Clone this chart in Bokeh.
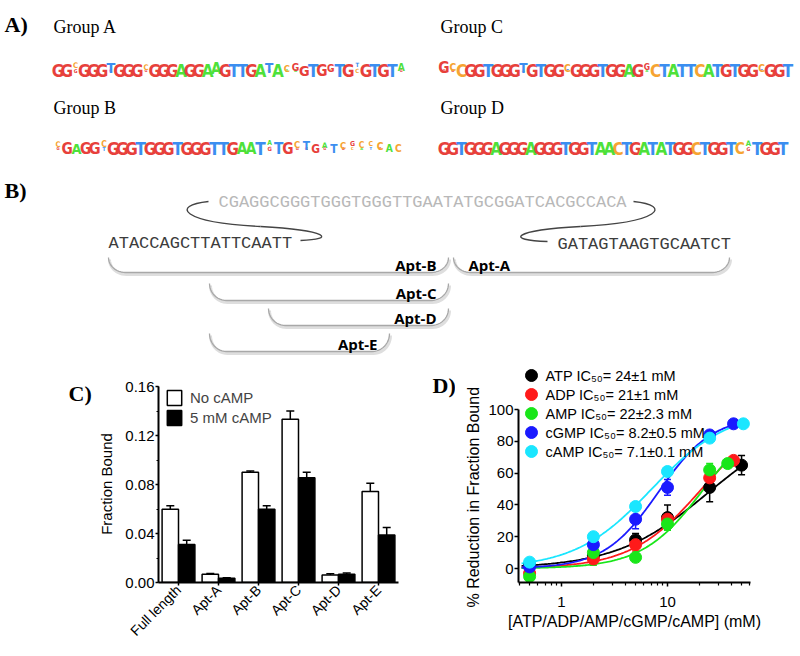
import math
import numpy as np
from bokeh.plotting import figure
from bokeh.layouts import column, row
from bokeh.models import (Range1d, FactorRange, ColumnDataSource, Whisker, TeeHead, Legend,
                          LegendItem, FixedTicker, SingleIntervalTicker, Title,
                          NumeralTickFormatter, BasicTickFormatter)
from bokeh.core.properties import value
from bokeh.embed import file_html
from bokeh.resources import INLINE
from bokeh.transform import dodge

SANS = "Liberation Sans"
SERIF = "Liberation Serif"
LOGO_FONT = "Liberation Sans Narrow, DejaVu Sans Condensed, Liberation Sans"
NBSP = "\u00a0"

# ---------------- A) sequence logos ----------------
logo_titles = ["Group A", "Group B", "Group C", "Group D"]
groupA_seq = "GGCGGGTGGGCGGGAGGAAGTTGATACGGTGGTGTGTGTA"
groupA_h = [1, 1, .45, 1, 1, 1, .85, 1, 1, 1, .45, 1, 1, 1, 1, 1, 1, 1, .9, 1,
            1, 1, 1, 1, .8, 1, .55, .6, .85, 1, .9, .6, 1, 1, .35, 1, 1, 1, 1, .6]
groupA_sub = {3: ("G", .3), 7: ("G", .1), 11: ("G", .2), 19: ("C", .08), 25: ("G", .1),
              27: ("A", .12), 28: ("A", .15), 32: ("C", .1), 35: ("C", .35), 40: ("G", .2)}
groupB_seq = "CGAGGCGGGTGGGTGGGTTGAATATGCTGATCGCCCAC"
groupB_h = [.45, .9, .85, .9, .95, .5, 1, 1, 1, 1, 1, 1, 1, 1, 1, 1, 1, 1, 1, 1,
            .9, .9, 1, .4, .9, .9, .55, .7, .7, .45, .7, .55, .4, .5, .4, .6, .6, .6]
groupB_sub = {1: ("G", .25), 6: ("T", .3), 24: ("G", .35), 27: ("G", .25), 28: ("G", .15),
              30: ("G", .2), 32: ("G", .15), 33: ("C", .25), 34: ("A", .2), 35: ("T", .25),
              36: ("G", .1)}
groupC_seq = "GCCGGTGGGTGTGGCGGGTGGAGGCTATTCATGTGGCGGT"
groupC_h = [.9, .6, 1, 1, 1, 1, 1, 1, 1, .8, 1, 1, 1, 1, .6, 1, 1, 1, 1, 1,
            1, 1, 1, .5, 1, 1, 1, 1, 1, 1, 1, 1, 1, 1, 1, 1, .6, 1, 1, 1]
groupC_sub = {1: ("G", .15), 2: ("G", .15), 10: ("A", .15), 15: ("T", .1), 24: ("A", .2),
              37: ("T", .1)}
groupD_seq = "GGTGGGAGGGAGGGTGGTAACTGATATGGCTGGTCATGGT"
groupD_h = [1, 1, 1, 1, 1, 1, 1, 1, 1, 1, 1, 1, 1, 1, 1, 1, 1, 1, 1, 1,
            1, 1, 1, 1, 1, 1, 1, 1, 1, 1, 1, 1, 1, 1, .9, .45, 1, 1, 1, 1]
groupD_sub = {36: ("G", .3)}

# ---------------- B) construct diagram ----------------
seq_loop = "CGAGGCGGGTGGGTGGGTTGAATATGCGGATCACGCCACA"
seq_left = "ATACCAGCTTATTCAATT"
seq_right = "GATAGTAAGTGCAATCT"
apt_names = ["Apt-B", "Apt-A", "Apt-C", "Apt-D", "Apt-E"]

# ---------------- C) fraction bound ----------------
bar_categories = ["Full length", "Apt-A", "Apt-B", "Apt-C", "Apt-D", "Apt-E"]
no_camp = [0.0597, 0.0068, 0.0899, 0.1333, 0.0062, 0.0742]
no_camp_err = [0.0030, 0.0005, 0.0012, 0.0067, 0.0010, 0.0069]
camp_5mM = [0.0311, 0.0035, 0.0597, 0.0855, 0.0068, 0.0388]
camp_5mM_err = [0.0033, 0.0003, 0.0030, 0.0044, 0.0010, 0.0060]
bar_series = ["No cAMP", "5 mM cAMP"]

# ---------------- D) dose response ----------------
atp_x = [0.5, 2, 5, 10, 25, 50]
atp_y = [2, 8, 18, 32, 51, 65]
atp_err = [3, 3, 4, 8, 9, 6]
adp_x = [0.5, 2, 5, 10, 25, 42]
adp_y = [-3, 6, 15, 31, 57, 68]
adp_err = [2, 3, 4, 4, 4, 2]
amp_x = [0.5, 2, 5, 10, 25, 37]
amp_y = [-5, 10, 7, 28, 62, 66]
amp_err = [2, 8, 2, 4, 4, 2]
cgmp_x = [0.5, 2, 5, 10, 25, 42]
cgmp_y = [1, 15, 31, 51, 84, 91]
cgmp_err = [3, 2, 6, 5, 1, 1]
camp_x = [0.5, 2, 5, 10, 25, 52]
camp_y = [4, 20, 39, 61, 82, 91]
camp_err = [2, 1, 1, 1, 1, 1]
dr_names = ["ATP", "ADP", "AMP", "cGMP", "cAMP"]
fit_ic50 = [24, 21, 22, 8.2, 7.1]
fit_ic50_err = ["1", "1", "2.3", "0.5", "0.1"]
fit_top = [95, 100, 100, 96, 100]
fit_hill = [1.0, 1.3, 1.5, 1.7, 1.2]

# ================= top figure (A and B), pixel coordinates =================
TOP_H = 358
top = figure(width=800, height=TOP_H, x_range=Range1d(0, 800), y_range=Range1d(TOP_H, 0),
             output_backend="svg", toolbar_location=None, min_border=0, title=None,
             x_axis_location=None, y_axis_location=None)
top.grid.visible = False
top.outline_line_color = None

logo_colors = {"A": "#4ee13a", "C": "#f6a431", "G": "#e7403b", "T": "#3b8ef0"}
F = 17


def logo_source(seq, h, sub, x0, dx, base):
    xs, ys, ts, fs, cs = [], [], [], [], []
    for i, ch in enumerate(seq):
        x = x0 + i * dx
        b = base
        if (i + 1) in sub:
            s, hs = sub[i + 1]
            xs.append(x); ys.append(b); ts.append(s)
            fs.append(f"{max(F * hs, 4):.1f}px"); cs.append(logo_colors[s])
            b -= 0.72 * F * hs + 1
        xs.append(x); ys.append(b); ts.append(ch)
        fs.append(f"{F * h[i]:.1f}px"); cs.append(logo_colors[ch])
    return ColumnDataSource(dict(x=xs, y=ys, t=ts, fs=fs, c=cs))


for seq, h, sub, x0, dx, base in [
        (groupA_seq, groupA_h, groupA_sub, 57.5, 8.8, 70),
        (groupB_seq, groupB_h, groupB_sub, 57.5, 9.2, 148),
        (groupC_seq, groupC_h, groupC_sub, 443.5, 8.82, 70),
        (groupD_seq, groupD_h, groupD_sub, 443.5, 8.7, 148)]:
    top.text(x="x", y="y", text="t", text_font_size="fs", text_color="c",
             source=logo_source(seq, h, sub, x0, dx, base),
             text_align="center", text_baseline="alphabetic",
             text_font=value(LOGO_FONT), text_font_style="bold")

top.text(x=[53, 53, 440, 440], y=[26, 107, 26, 107], text=logo_titles,
         text_font=value(SERIF), text_font_size="18px", text_baseline="middle",
         text_color="black")
top.text(x=[4, 4], y=[24, 190], text=["A)", "B)"], text_font=value(SERIF),
         text_font_size="22px", text_font_style="bold", text_baseline="middle",
         text_color="black")

# B) sequences
top.text(x=[218], y=[202], text=[seq_loop], text_font=value("Liberation Mono"),
         text_font_size="17px", text_baseline="middle", text_color="#b8b8b8")
top.text(x=[108, 557], y=[243, 244], text=[seq_left, seq_right],
         text_font=value("Liberation Mono"), text_font_size="17px",
         text_baseline="middle", text_color="#3c3c3c")
# connectors
top.bezier(x0=[208, 260, 633, 580], y0=[201, 226, 201, 226],
           x1=[260, 300, 580, 547], y1=[226, 240, 226, 241],
           cx0=[170, 330, 672, 510], cy0=[205, 230, 205, 230],
           cx1=[180, 335, 660, 505], cy1=[222, 239, 222, 240],
           line_color="#444444", line_width=1.4)

# brackets
apt_start = [108, 453, 209, 268, 209]
apt_end = [448, 729, 448, 448, 389]
apt_top = [257, 257, 283, 308, 333]
apt_bot = [272, 272, 300, 325, 351]
br_xs, br_ys = [], []
for x0, x1, t, b in zip(apt_start, apt_end, apt_top, apt_bot):
    r = 17
    hh = b - t
    xs, ys = [], []
    for k in range(13):
        a = k / 12 * math.pi / 2
        xs.append(x0 + r - r * math.cos(a)); ys.append(t + hh * math.sin(a))
    for k in range(13):
        a = math.pi / 2 - k / 12 * math.pi / 2
        xs.append(x1 - r + r * math.cos(a)); ys.append(t + hh * math.sin(a))
    br_xs.append(xs); br_ys.append(ys)
top.multi_line(xs=[[v + 1 for v in xs] for xs in br_xs],
               ys=[[v + 2 for v in ys] for ys in br_ys],
               line_color="#dedede", line_width=3)
top.multi_line(xs=br_xs, ys=br_ys, line_color="#a8a8a8", line_width=1.3)
lab_x = [x1 - 12 for x1 in apt_end]
lab_x[1] = apt_start[1] + 15
lab_align = ["right", "left", "right", "right", "right"]
top.text(x=lab_x, y=[b - 8 for b in apt_bot], text=apt_names,
         text_align=lab_align, text_baseline="middle",
         text_font=value("Open Sans"), text_font_style="bold",
         text_font_size="15px", text_color="black")

# ============ bottom row: every plot shares the same frame rows ============
BOT_H = 656 - TOP_H          # 298
FR_T, FR_B = TOP_H + 2, 582  # frame top / bottom page rows
B_TOP, B_BOT = FR_T - TOP_H, 656 - FR_B


def letter_fig(x0, x1, text, tx, ty):
    f = figure(width=x1 - x0, height=BOT_H, x_range=Range1d(x0, x1),
               y_range=Range1d(FR_B, FR_T), output_backend="svg", toolbar_location=None,
               min_border_left=0, min_border_right=0, min_border_top=B_TOP,
               min_border_bottom=B_BOT, title=None,
               x_axis_location=None, y_axis_location=None)
    f.grid.visible = False
    f.outline_line_color = None
    f.text(x=[tx], y=[ty], text=[text], text_font=value(SERIF), text_font_size="22px",
           text_font_style="bold", text_baseline="middle", text_color="black")
    return f


labC = letter_fig(0, 95, "C)", 68, 393)
labD = letter_fig(430, 455, "D)", 432, 385)

# ================= C) bar chart =================
srcC = ColumnDataSource(dict(
    cat=bar_categories, no=no_camp, c5=camp_5mM,
    no_lo=[v - e for v, e in zip(no_camp, no_camp_err)],
    no_hi=[v + e for v, e in zip(no_camp, no_camp_err)],
    c5_lo=[v - e for v, e in zip(camp_5mM, camp_5mM_err)],
    c5_hi=[v + e for v, e in zip(camp_5mM, camp_5mM_err)]))

C_TOP = 0.16 + (386 - FR_T) * 0.16 / (FR_B - 386)
pC = figure(x_range=FactorRange(*bar_categories), y_range=Range1d(0, C_TOP),
            width=335, height=BOT_H, min_border_left=58, min_border_right=32,
            min_border_top=B_TOP, min_border_bottom=B_BOT, title=None,
            output_backend="svg", toolbar_location=None)
pC.grid.visible = False
pC.outline_line_color = None
OFF = 0.205
r_no = pC.vbar(x=dodge("cat", -OFF, range=pC.x_range), top="no", width=0.41, source=srcC,
               fill_color="white", line_color="black", line_width=1.5)
r_c5 = pC.vbar(x=dodge("cat", OFF, range=pC.x_range), top="c5", width=0.41, source=srcC,
               fill_color="black", line_color="black", line_width=1.5)
for off, lo, hi in [(-OFF, "no_lo", "no_hi"), (OFF, "c5_lo", "c5_hi")]:
    pC.add_layout(Whisker(source=srcC, base=dodge("cat", off, range=pC.x_range),
                          lower=lo, upper=hi, line_color="black", line_width=1.5,
                          upper_head=TeeHead(size=8, line_width=1.5, line_color="black"),
                          lower_head=TeeHead(size=8, line_width=1.5, line_color="black")))

pC.yaxis.ticker = SingleIntervalTicker(interval=0.04, num_minor_ticks=2)
pC.yaxis.formatter = NumeralTickFormatter(format="0.00")
pC.yaxis.bounds = (0, 0.16)
# trailing no-break spaces centre the title on the drawn axis (0-0.16), not the frame
pC.yaxis.axis_label = "Fraction Bound" + NBSP * 6
pC.xaxis.major_label_orientation = math.pi / 4
for ax in (pC.xaxis, pC.yaxis):
    ax.axis_line_width = 2
    ax.axis_line_color = "black"
    ax.major_tick_line_width = 1.5
    ax.major_tick_in = 0
    ax.major_tick_out = 3
    ax.minor_tick_in = 0
    ax.minor_tick_out = 2
    ax.major_label_text_font = SANS
    ax.major_label_text_font_size = "15px"
    ax.major_label_text_color = "black"
    ax.axis_label_text_font = SANS
    ax.axis_label_text_font_size = "15px"
    ax.axis_label_text_font_style = "normal"
    ax.axis_label_text_color = "black"
pC.yaxis.major_label_standoff = 1
pC.yaxis.axis_label_standoff = 7
pC.xaxis.major_label_standoff = 2
pC.xaxis.major_label_text_font_size = "14px"

legC = Legend(items=[LegendItem(label=bar_series[0], renderers=[r_no]),
                     LegendItem(label=bar_series[1], renderers=[r_c5])],
              location=(7, FR_B - 427), glyph_width=18, glyph_height=19,
              label_height=19, spacing=1, padding=0, margin=0, label_standoff=7,
              background_fill_alpha=0, border_line_color=None,
              label_text_font=SANS, label_text_font_size="15px")
pC.add_layout(legC)

# ================= D) dose response =================
Y0PX, PXU = 568, 1.59            # page row of y=0 and pixels per % unit
YLO = -(FR_B - Y0PX) / PXU
YHI = (Y0PX - FR_T) / PXU
XLO, XHI = 0.393, 60.7
pD = figure(x_axis_type="log", x_range=Range1d(XLO, XHI), y_range=Range1d(YLO, YHI),
            width=345, height=BOT_H, min_border_left=63, min_border_right=50,
            min_border_top=B_TOP, min_border_bottom=B_BOT, title=None,
            output_backend="svg", toolbar_location=None)
pD.grid.visible = False
pD.outline_line_color = None

dr_colors = ["black", "#ff1a1a", "#19e619", "#1a1aff", "#1ae6ff"]
series = [(atp_x, atp_y, atp_err), (adp_x, adp_y, adp_err), (amp_x, amp_y, amp_err),
          (cgmp_x, cgmp_y, cgmp_err), (camp_x, camp_y, camp_err)]
for i, (sx, sy, se) in enumerate(series):
    xc = np.logspace(np.log10(0.42), np.log10(max(sx)), 150)
    yc = fit_top[i] / (1 + (fit_ic50[i] / xc) ** fit_hill[i])
    pD.line(xc, yc, line_color=dr_colors[i], line_width=1.8)
for i, (sx, sy, se) in enumerate(series):
    col = dr_colors[i]
    src = ColumnDataSource(dict(x=sx, y=sy, lo=[a - b for a, b in zip(sy, se)],
                                hi=[a + b for a, b in zip(sy, se)]))
    pD.add_layout(Whisker(source=src, base="x", lower="lo", upper="hi",
                          line_color=col, line_width=1.5,
                          upper_head=TeeHead(size=7, line_width=1.5, line_color=col),
                          lower_head=TeeHead(size=7, line_width=1.5, line_color=col)))
    pD.scatter("x", "y", source=src, size=12, fill_color=col, line_color=col)

# legend block in the upper-left corner of the panel, laid out in pixels
FW = 232
lx_marker = 10 ** (math.log10(XLO) + 13 / FW * math.log10(XHI / XLO))
lx_text = 10 ** (math.log10(XLO) + 27 / FW * math.log10(XHI / XLO))
leg_rows = [(Y0PX - py) / PXU for py in (375, 394, 413, 432, 451)]
leg_labels = [f"{n} IC\u2085\u2080= {v}\u00b1{e} mM"
              for n, v, e in zip(dr_names, fit_ic50, fit_ic50_err)]
pD.scatter(x=[lx_marker] * 5, y=leg_rows, size=12, fill_color=dr_colors,
           line_color=dr_colors)
pD.text(x=[lx_text] * 5, y=leg_rows, text=leg_labels, text_baseline="middle",
        text_font=value(SANS), text_font_size="14.5px", text_color="black")

pD.xaxis.ticker = FixedTicker(ticks=[1, 10],
                              minor_ticks=[0.4, 0.5, 0.6, 0.7, 0.8, 0.9, 2, 3, 4, 5, 6, 7, 8, 9,
                                           20, 30, 40, 50, 60])
pD.xaxis.formatter = BasicTickFormatter()
pD.yaxis.ticker = FixedTicker(ticks=[0, 20, 40, 60, 80, 100])
pD.yaxis.bounds = (YLO, 100)
pD.xaxis.axis_label = "[ATP/ADP/AMP/cGMP/cAMP] (mM)"
for ax in (pD.xaxis, pD.yaxis):
    ax.axis_line_width = 2
    ax.axis_line_color = "black"
    ax.major_tick_line_width = 1.5
    ax.major_tick_in = 0
    ax.major_tick_out = 4
    ax.minor_tick_in = 0
    ax.minor_tick_out = 3
    ax.minor_tick_line_width = 1.2
    ax.major_label_text_font = SANS
    ax.major_label_text_font_size = "15px"
    ax.major_label_text_color = "black"
    ax.axis_label_text_font = SANS
    ax.axis_label_text_font_size = "16px"
    ax.axis_label_text_font_style = "normal"
    ax.axis_label_text_color = "black"
pD.yaxis.major_label_standoff = 1
pD.xaxis.major_label_standoff = 10
pD.xaxis.axis_label_standoff = 3
# y title as a left-side title, started 25 px below the frame so it spans the drawn axis
pD.add_layout(Title(text="% Reduction in Fraction Bound", align="left", offset=-25,
                    standoff=8, text_font=SANS, text_font_size="16px",
                    text_font_style="normal", text_color="black"), "left")

layout = column(top, row(labC, pC, labD, pD))
open("out.html", "w").write(file_html(layout, INLINE, "Figure"))
